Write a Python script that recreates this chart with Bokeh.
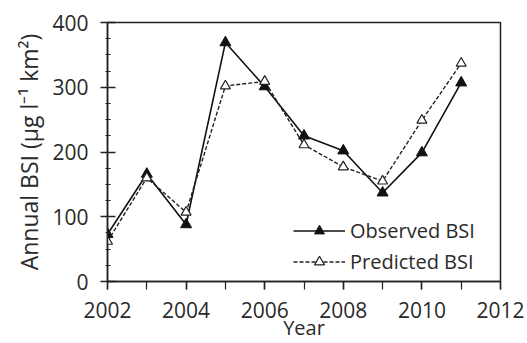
from bokeh.plotting import figure
from bokeh.models import FixedTicker, Range1d, Legend, LegendItem
from bokeh.embed import file_html
from bokeh.resources import INLINE

years = [2002, 2003, 2004, 2005, 2006, 2007, 2008, 2009, 2010, 2011]
observed = [73, 166, 88, 369, 301, 225, 202, 137, 199, 307]
predicted = [62, 160, 107, 302, 309, 211, 177, 155, 249, 337]
x_ticks = [2002, 2004, 2006, 2008, 2010, 2012]
y_ticks = [0, 100, 200, 300, 400]

FONT = "Open Sans"
TXT = "#2a2a2a"

p = figure(width=527, height=343, output_backend="svg", toolbar_location=None,
           x_range=Range1d(2002, 2012), y_range=Range1d(0, 400),
           min_border_left=107, min_border_top=22, min_border_right=27, min_border_bottom=62)
p.grid.visible = False
p.outline_line_color = "#222222"
p.outline_line_width = 1.5
p.background_fill_color = "white"
p.border_fill_color = "white"

p.xaxis.ticker = FixedTicker(ticks=x_ticks, minor_ticks=list(range(2002, 2013)))
p.yaxis.ticker = FixedTicker(ticks=y_ticks, minor_ticks=list(range(0, 401, 25)))

for ax in (p.xaxis[0], p.yaxis[0]):
    ax.axis_line_color = "#222222"
    ax.axis_line_width = 1.5
    ax.major_tick_line_color = "#222222"
    ax.minor_tick_line_color = "#222222"
    ax.major_tick_line_width = 1.5
    ax.minor_tick_line_width = 1.2
    ax.major_label_text_font = FONT
    ax.major_label_text_font_size = "21px"
    ax.major_label_text_color = TXT
    ax.axis_label_text_font = FONT
    ax.axis_label_text_font_style = "normal"
    ax.axis_label_text_color = TXT

p.xaxis.major_tick_out = 8
p.xaxis.major_tick_in = 0
p.xaxis.minor_tick_out = 8
p.xaxis.minor_tick_in = 0
p.xaxis.major_label_standoff = 12
p.xaxis.axis_label = "Year"
p.xaxis.axis_label_text_font_size = "20px"
p.xaxis.axis_label_text_line_height = 0.7
p.xaxis.axis_label_standoff = -7

p.yaxis.major_tick_out = 7
p.yaxis.major_tick_in = 8
p.yaxis.minor_tick_out = 2
p.yaxis.minor_tick_in = 3
p.yaxis.major_label_standoff = 12
p.yaxis.axis_label = "Annual BSI (µg l⁻¹ km²)"
p.yaxis.axis_label_text_font_size = "23px"
p.yaxis.axis_label_standoff = 4

l1 = p.line(years, observed, line_color="#111111", line_width=1.6)
m1 = p.scatter(years, observed, marker="triangle", size=11, fill_color="#111111",
               line_color="#111111")
l2 = p.line(years, predicted, line_color="#222222", line_width=1.4, line_dash="4 2")
m2 = p.scatter(years, predicted, marker="triangle", size=10, fill_color="white",
               line_color="#222222", line_width=1.2)

legend = Legend(items=[LegendItem(label="Observed BSI", renderers=[l1, m1]),
                       LegendItem(label="Predicted BSI", renderers=[l2, m2])],
                location=(186, 6))
legend.background_fill_alpha = 0
legend.border_line_alpha = 0
legend.label_text_font = FONT
legend.label_text_font_size = "20px"
legend.label_text_color = TXT
legend.glyph_width = 52
legend.glyph_height = 25
legend.label_height = 25
legend.spacing = 4
legend.padding = 0
legend.margin = 0
legend.label_standoff = 5
p.add_layout(legend)

open("out.html", "w").write(file_html(p, INLINE))
